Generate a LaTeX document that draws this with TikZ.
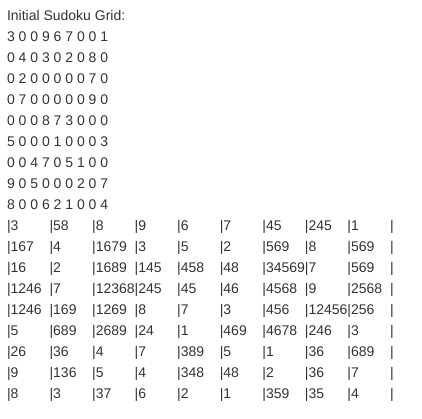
\documentclass[tikz,border=0pt]{standalone}
\usepackage{fontspec}
\setmainfont{Liberation Sans}
\definecolor{txt}{HTML}{333333}
\begin{document}
\begin{tikzpicture}[x=1pt,y=-1pt,
  txtstyle/.style={anchor=base west, inner sep=0pt, outer sep=0pt, text=txt, font=\fontsize{14}{17}\selectfont}]
\useasboundingbox (0,0) rectangle (422,418);
\node[txtstyle] (title) at (7,20) {Initial Sudoku Grid:};
\foreach \line [count=\i] in {3 0 0 9 6 7 0 0 1,0 4 0 3 0 2 0 8 0,0 2 0 0 0 0 0 7 0,0 7 0 0 0 0 0 9 0,0 0 0 8 7 3 0 0 0,5 0 0 0 1 0 0 0 3,0 0 4 7 0 5 1 0 0,9 0 5 0 0 0 2 0 7,8 0 0 6 2 1 0 0 4}
  \node[txtstyle] (g\i) at (7,{20+21*\i}) {\line};
\foreach \row [count=\r] in {{3,58,8,9,6,7,45,245,1},{167,4,1679,3,5,2,569,8,569},{16,2,1689,145,458,48,34569,7,569},{1246,7,12368,245,45,46,4568,9,2568},{1246,169,1269,8,7,3,456,12456,256},{5,689,2689,24,1,469,4678,246,3},{26,36,4,7,389,5,1,36,689},{9,136,5,4,348,48,2,36,7},{8,3,37,6,2,1,359,35,4}} {
  \foreach \v [count=\c] in \row {
    \node[txtstyle] (c\r-\c) at ({7+42.56*(\c-1)},{20+21*(9+\r)}) {|\v};
  }
  \node[txtstyle] (e\r) at ({7+42.56*9},{20+21*(9+\r)}) {|};
}
\end{tikzpicture}
\end{document}
